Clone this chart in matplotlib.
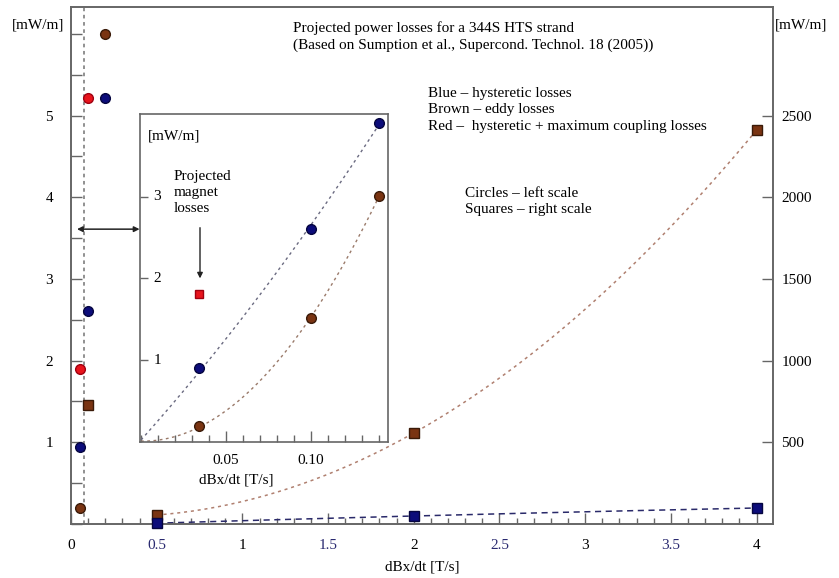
import numpy as np
import matplotlib
matplotlib.use("Agg")
import matplotlib.pyplot as plt
from matplotlib.ticker import MultipleLocator, FixedLocator

plt.rcParams['font.family'] = ['Liberation Serif', 'DejaVu Serif']

# ---------------- data ----------------
# main plot, circles (left scale, mW/m)
circ_blue_x = [0.05, 0.1, 0.2]
circ_blue_y = [0.94, 2.61, 5.21]
circ_brown_x = [0.05, 0.2]
circ_brown_y = [0.19, 6.0]
circ_red_x = [0.05, 0.1]
circ_red_y = [1.90, 5.21]

# main plot, squares (right scale, mW/m)
sq_brown_x = [0.1, 0.5, 2.0, 4.0]
sq_brown_y = [730, 55, 557, 2411]
sq_blue_x = [0.5, 2.0, 4.0]
sq_blue_y = [5, 49, 98]

# inset (left scale, mW/m)
in_blue_x = [0.034, 0.10, 0.14]
in_blue_y = [0.90, 2.61, 3.90]
in_brown_x = [0.034, 0.10, 0.14]
in_brown_y = [0.20, 1.51, 3.01]
in_red_x = [0.034]
in_red_y = [1.81]

marker_line_x = 0.078

main_xticks = [0, 0.5, 1, 1.5, 2, 2.5, 3, 3.5, 4]
main_xticklabels = ['0', '0.5', '1', '1.5', '2', '2.5', '3', '3.5', '4']
left_ticks = [1, 2, 3, 4, 5]
right_ticks = [500, 1000, 1500, 2000, 2500]
inset_xticks = [0.05, 0.10]
inset_xticklabels = ['0.05', '0.10']
inset_yticks = [1, 2, 3]

BLUE = '#0c0c7a'
BROWN = '#7a3412'
RED = '#e8141c'
NAVY_TXT = '#2a2a70'
SPINE = '#666666'
FS = 11

W, H = 839, 578
fig = plt.figure(figsize=(W / 100, H / 100), dpi=100)

def rect(l, t, r, b):
    return [l / W, 1 - b / H, (r - l) / W, (b - t) / H]

ax = fig.add_axes(rect(71, 7, 773, 524))
ax.set_xlim(0, 4.096)
ax.set_ylim(0, 6.33)
ax2 = ax.twinx()
ax2.set_ylim(0, 6.33 * 500)

for a in (ax, ax2):
    for s in a.spines.values():
        s.set_color(SPINE)
        s.set_linewidth(1.2)

# ticks
ax.xaxis.set_major_locator(FixedLocator(main_xticks))
ax.set_xticklabels(main_xticklabels, fontsize=FS)
ax.xaxis.set_minor_locator(MultipleLocator(0.1))
for lab, t in zip(ax.get_xticklabels(), main_xticklabels):
    if '.' in t:
        lab.set_color(NAVY_TXT)
ax.yaxis.set_major_locator(FixedLocator(left_ticks))
ax.set_yticklabels([str(v) for v in left_ticks], fontsize=FS)
ax.yaxis.set_minor_locator(MultipleLocator(0.5))
ax.tick_params(axis='x', which='major', direction='in', length=8, width=1, color=SPINE, pad=11, top=False)
ax.tick_params(axis='x', which='minor', direction='in', length=4, width=1, color=SPINE, top=False)
ax.tick_params(axis='y', which='both', direction='in', length=8, width=1, color=SPINE, pad=13, right=False)
ax2.yaxis.set_major_locator(FixedLocator(right_ticks))
ax2.set_yticklabels([str(v) for v in right_ticks], fontsize=FS)
ax2.tick_params(axis='y', direction='in', length=8, width=1, color=SPINE, pad=6)

ax.set_xlabel('dBx/dt [T/s]', fontsize=FS, labelpad=6)

# vertical dotted line
ax.axvline(marker_line_x, color='#888888', lw=1.3, ls=(0, (2, 2)), zorder=1)

# fitted trend curves through squares
bx = np.array(sq_brown_x[1:]); by = np.array(sq_brown_y[1:])
cb = np.polyfit(bx, by, 2)
xs = np.linspace(bx.min(), bx.max(), 200)
ax2.plot(xs, np.polyval(cb, xs), color='#b08070', lw=1.1, ls=(0, (2, 2.5)), zorder=2)
ux = np.array(sq_blue_x); uy = np.array(sq_blue_y)
cu = np.polyfit(ux, uy, 2)
xs = np.linspace(ux.min(), ux.max(), 200)
ax2.plot(xs, np.polyval(cu, xs), color='#2a2a6a', lw=1.1, ls=(0, (4, 3)), zorder=2)

# markers
ax.plot(circ_blue_x, circ_blue_y, 'o', color=BLUE, mec='#050540', ms=7, clip_on=False, zorder=5)
ax.plot(circ_brown_x, circ_brown_y, 'o', color=BROWN, mec='#3a1a08', ms=7, clip_on=False, zorder=5)
ax.plot(circ_red_x, circ_red_y, 'o', color=RED, mec='#a00010', ms=7, clip_on=False, zorder=5)
ax2.plot(sq_brown_x, sq_brown_y, 's', color=BROWN, mec='#3a1a08', ms=6.5, clip_on=False, zorder=5)
ax2.plot(sq_blue_x, sq_blue_y, 's', color=BLUE, mec='#050540', ms=6.5, clip_on=False, zorder=5)

# unit labels
fig.text(12 / W, 1 - 25 / H, '[mW/m]', fontsize=FS, va='center', ha='left')
fig.text(775 / W, 1 - 25 / H, '[mW/m]', fontsize=FS, va='center', ha='left')

# annotation texts
ax.text(0.316, 0.959, 'Projected power losses for a 344S HTS strand', transform=ax.transAxes,
        fontsize=FS, va='center', ha='left')
ax.text(0.316, 0.926, '(Based on Sumption et al., Supercond. Technol. 18 (2005))', transform=ax.transAxes,
        fontsize=FS, va='center', ha='left')
ax.text(0.5085, 0.832, 'Blue \u2013 hysteretic losses', transform=ax.transAxes, fontsize=FS, va='center')
ax.text(0.5085, 0.801, 'Brown \u2013 eddy losses', transform=ax.transAxes, fontsize=FS, va='center')
ax.text(0.5085, 0.768, 'Red \u2013  hysteretic + maximum coupling losses', transform=ax.transAxes, fontsize=FS, va='center')
ax.text(0.561, 0.640, 'Circles \u2013 left scale', transform=ax.transAxes, fontsize=FS, va='center')
ax.text(0.561, 0.609, 'Squares \u2013 right scale', transform=ax.transAxes, fontsize=FS, va='center')

# double arrow to inset
ax.annotate('', xy=(0.035, 3.61), xytext=(0.40, 3.61),
            arrowprops=dict(arrowstyle='<|-|>', color='#222222', lw=1.1, mutation_scale=8,
                            shrinkA=0, shrinkB=0), zorder=6)

# ---------------- inset ----------------
ins = fig.add_axes(rect(140, 114, 388, 442))
ins.set_zorder(10)
ins.set_xlim(-0.0006, 0.1453)
ins.set_ylim(0, 4.01)
for s in ins.spines.values():
    s.set_color(SPINE)
    s.set_linewidth(1.2)
ins.xaxis.set_major_locator(FixedLocator(inset_xticks))
ins.set_xticklabels(inset_xticklabels, fontsize=FS)
ins.xaxis.set_minor_locator(MultipleLocator(0.01))
ins.tick_params(axis='x', which='major', direction='in', length=8, width=1, color=SPINE, pad=9)
ins.tick_params(axis='x', which='minor', direction='in', length=5, width=1, color=SPINE)
ins.yaxis.set_major_locator(FixedLocator(inset_yticks))
ins.tick_params(axis='y', direction='in', length=6, width=1, color=SPINE, labelleft=False)
for v in inset_yticks:
    ins.text(0.055, v, str(v), transform=ins.get_yaxis_transform(), fontsize=FS, va='center', ha='left')
ins.set_xlabel('dBx/dt [T/s]', fontsize=FS)
ins.xaxis.set_label_coords(0.387, -0.095)
ins.text(0.032, 0.933, '[mW/m]', transform=ins.transAxes, fontsize=FS, va='center', ha='left')

# inset trend curves through origin and points
for xv, yv, col in ((in_blue_x, in_blue_y, '#6a6a80'), (in_brown_x, in_brown_y, '#9a7a6a')):
    px = np.concatenate([[0.0], xv]); py = np.concatenate([[0.0], yv])
    c = np.polyfit(px, py, 2)
    xs = np.linspace(0, max(xv), 200)
    ins.plot(xs, np.polyval(c, xs), color=col, lw=1.0, ls=(0, (2, 2.5)), zorder=2)

ins.plot(in_blue_x, in_blue_y, 'o', color=BLUE, mec='#050540', ms=7, clip_on=False, zorder=5)
ins.plot(in_brown_x, in_brown_y, 'o', color=BROWN, mec='#3a1a08', ms=7, clip_on=False, zorder=5)
ins.plot(in_red_x, in_red_y, 's', color=RED, mec='#a00010', ms=6, clip_on=False, zorder=5)

ins.text(0.019, 3.33, 'Projected\nmagnet\nlosses', fontsize=FS, va='top', ha='left', linespacing=1.3)
ins.annotate('', xy=(0.0347, 2.0), xytext=(0.0347, 2.62),
             arrowprops=dict(arrowstyle='-|>', color='#222222', lw=1.0, mutation_scale=8,
                             shrinkA=0, shrinkB=0))

fig.savefig('out.png', dpi=100)
